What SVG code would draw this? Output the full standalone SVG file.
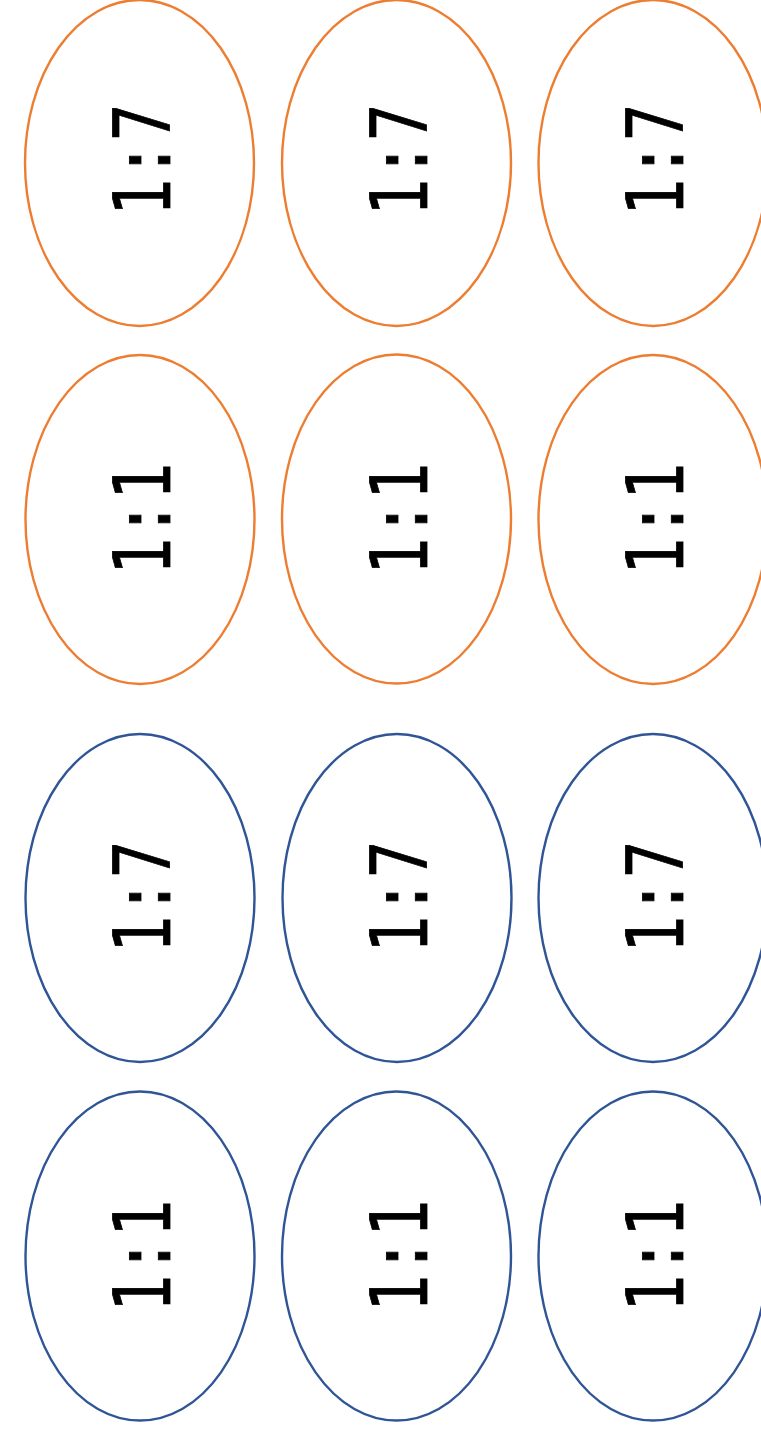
<svg xmlns="http://www.w3.org/2000/svg" width="761" height="1451" viewBox="0 0 761 1451">
<style>
.o{fill:#fff;stroke:#ED7D31;stroke-width:2.4}
.b{fill:#fff;stroke:#2F5597;stroke-width:2.4}
.t{font-family:"DejaVu Sans Mono","Liberation Mono",monospace;font-size:78px;fill:#000;text-anchor:middle;stroke:#000;stroke-width:0.8}
</style>
<rect width="761" height="1451" fill="#fff"/>
<g id="r1c1"><ellipse class="o" cx="139.5" cy="163" rx="114.5" ry="163"/><text class="t" transform="translate(170,160) rotate(-90) scale(0.8,1)">1:7</text></g>
<g id="r1c2"><ellipse class="o" cx="396.5" cy="163" rx="114.5" ry="163"/><text class="t" transform="translate(427,160) rotate(-90) scale(0.8,1)">1:7</text></g>
<g id="r1c3"><ellipse class="o" cx="653" cy="163" rx="114.5" ry="163"/><text class="t" transform="translate(683,160) rotate(-90) scale(0.8,1)">1:7</text></g>
<g id="r2c1"><ellipse class="o" cx="140" cy="519.5" rx="114.5" ry="164.5"/><text class="t" transform="translate(170,519) rotate(-90) scale(0.8,1)">1:1</text></g>
<g id="r2c2"><ellipse class="o" cx="396.5" cy="519" rx="114.5" ry="164.5"/><text class="t" transform="translate(427,519) rotate(-90) scale(0.8,1)">1:1</text></g>
<g id="r2c3"><ellipse class="o" cx="653" cy="519.5" rx="114.5" ry="164.5"/><text class="t" transform="translate(683,519) rotate(-90) scale(0.8,1)">1:1</text></g>
<g id="r3c1"><ellipse class="b" cx="140" cy="898" rx="114.5" ry="164"/><text class="t" transform="translate(170,897) rotate(-90) scale(0.8,1)">1:7</text></g>
<g id="r3c2"><ellipse class="b" cx="397" cy="898" rx="114.5" ry="164"/><text class="t" transform="translate(427,897) rotate(-90) scale(0.8,1)">1:7</text></g>
<g id="r3c3"><ellipse class="b" cx="653" cy="898" rx="114.5" ry="164"/><text class="t" transform="translate(683,897) rotate(-90) scale(0.8,1)">1:7</text></g>
<g id="r4c1"><ellipse class="b" cx="140" cy="1256" rx="114.5" ry="164.5"/><text class="t" transform="translate(170,1256) rotate(-90) scale(0.8,1)">1:1</text></g>
<g id="r4c2"><ellipse class="b" cx="396.5" cy="1256" rx="114.5" ry="164.5"/><text class="t" transform="translate(427,1256) rotate(-90) scale(0.8,1)">1:1</text></g>
<g id="r4c3"><ellipse class="b" cx="653" cy="1256" rx="114.5" ry="164.5"/><text class="t" transform="translate(683,1256) rotate(-90) scale(0.8,1)">1:1</text></g>
<g id="connectors"/>
</svg>
